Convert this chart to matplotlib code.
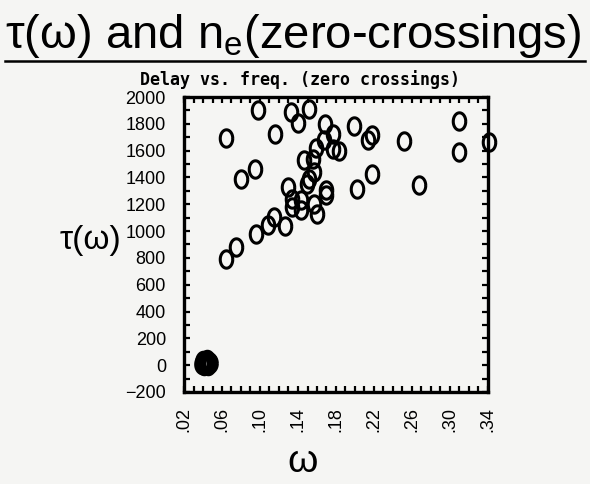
import numpy as np
import matplotlib.pyplot as plt
from matplotlib.path import Path
from matplotlib.ticker import MultipleLocator, FuncFormatter

# delay (tau) vs. frequency (omega) from zero crossings
omega = [0.0982, 0.0642, 0.1326, 0.152, 0.1397, 0.116, 0.168, 0.1765, 0.1677,
         0.159, 0.1765, 0.183, 0.1467, 0.1555, 0.157, 0.152, 0.150, 0.0947,
         0.080, 0.129, 0.134, 0.143, 0.134, 0.143, 0.157, 0.160, 0.169, 0.169,
         0.115, 0.108, 0.1266, 0.0958, 0.0747, 0.0642,
         0.3098, 0.3098, 0.3414, 0.2519, 0.2677, 0.2176, 0.2021, 0.1986,
         0.2176, 0.214]
tau = [1901, 1694, 1888, 1913, 1806, 1726, 1796, 1726, 1677,
       1620, 1615, 1595, 1532, 1540, 1440, 1390, 1353, 1460,
       1390, 1329, 1241, 1229, 1179, 1155, 1204, 1130, 1304, 1267,
       1105, 1043, 1038, 976, 881, 794,
       1819, 1590, 1664, 1672, 1341, 1428, 1316, 1781,
       1714, 1677]

# points stuck at zero delay
omega_zero = [0.039, 0.041, 0.043, 0.045, 0.047, 0.040, 0.044, 0.046]
tau_zero = [10, 0, 20, 5, 15, 30, 35, 25]

xticks = [0.02, 0.06, 0.10, 0.14, 0.18, 0.22, 0.26, 0.30, 0.34]

bg = '#f5f5f3'
plt.rcParams['font.family'] = ['Liberation Sans', 'DejaVu Sans']
plt.rcParams['mathtext.fontset'] = 'custom'
plt.rcParams['mathtext.rm'] = 'Liberation Sans'

fig = plt.figure(figsize=(5.9, 4.84), dpi=100, facecolor=bg)
W, H = 590, 484

def fx(px):
    return px / W

def fy(py):
    return 1 - py / H

ax = fig.add_axes([fx(184), fy(392), fx(488) - fx(184), fy(97) - fy(392)])
ax.set_facecolor(bg)

# tall "O" shaped marker
t = np.linspace(0, 2 * np.pi, 60)
oval = Path(np.column_stack([0.72 * np.cos(t), np.sin(t)]))

ax.plot(omega, tau, linestyle='none', marker=oval, markersize=12.5,
        markerfacecolor='none', markeredgecolor='black', markeredgewidth=2.2,
        clip_on=False)
ax.plot(omega_zero, tau_zero, linestyle='none', marker=oval, markersize=12.5,
        markerfacecolor='none', markeredgecolor='black', markeredgewidth=3,
        clip_on=False)

ax.set_xlim(0.02, 0.34)
ax.set_ylim(-200, 2000)

ax.set_xticks(xticks)
ax.xaxis.set_minor_locator(MultipleLocator(0.01))
ax.yaxis.set_major_locator(MultipleLocator(200))
ax.yaxis.set_minor_locator(MultipleLocator(100))
ax.xaxis.set_major_formatter(FuncFormatter(lambda v, p: ('%.2f' % v)[1:]))

ax.tick_params(which='both', direction='in', top=True, right=True,
               width=1.6, length=4, color='black')
ax.tick_params(axis='y', labelsize=13, pad=13)
ax.tick_params(axis='x', labelsize=13, pad=11, labelrotation=90)
for s in ax.spines.values():
    s.set_linewidth(2.4)

# small plot caption, left of the axes centre
fig.text(fx(140), fy(85), 'Delay vs. freq. (zero crossings)', fontsize=12,
         family='DejaVu Sans Mono', fontweight='bold', ha='left',
         va='baseline')

# axis labels
fig.text(fx(90), fy(240), 'τ(ω)', fontsize=24, ha='center', va='center')
fig.text(fx(303), fy(462), 'ω', fontsize=28, ha='center', va='center')

# underlined heading
fig.text(fx(5), fy(48), r'τ(ω) and n$_{\mathrm{e}}$(zero-crossings)',
         fontsize=34, ha='left', va='baseline')
fig.add_artist(plt.Line2D([fx(5), fx(585)], [fy(61), fy(61)], color='black',
                          linewidth=1.8))

fig.savefig('out.png', dpi=100, facecolor=bg)
